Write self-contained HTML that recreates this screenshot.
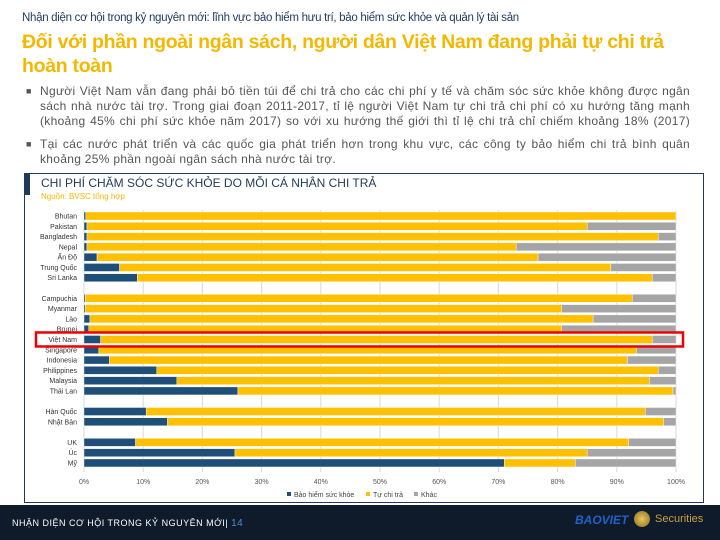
<!DOCTYPE html>
<html><head><meta charset="utf-8">
<style>
body{margin:0;width:720px;height:540px;overflow:hidden;background:#fff;font-family:"Liberation Sans","Noto Sans CJK SC",sans-serif;position:relative}
.abs{position:absolute}
#hdr{left:22px;top:12px;font-size:11.5px;color:#1f3a5a;letter-spacing:-0.3px;white-space:nowrap}
#ttl{left:22px;top:30px;font-size:19.5px;font-weight:bold;color:#f5b800;line-height:24px;width:690px;letter-spacing:-0.3px}
.bul{left:26px;font-size:12px;color:#555;line-height:15px;width:664px;letter-spacing:0.3px;white-space:nowrap}
.bul span.m{position:absolute;left:0;top:0;font-size:9px}
.bul div{margin-left:14px;width:650px}
.bul .j{display:block;text-align:justify;text-align-last:justify}
.bul .l{display:block}
#box{left:24px;top:173px;width:680px;height:330px;border:1px solid #1f3a5a;box-sizing:border-box}
#footer{left:0;top:505px;width:720px;height:35px;background:#0f1a2a}
</style></head><body>
<div id="hdr" class="abs">Nhận diện cơ hội trong kỷ nguyên mới: lĩnh vực bảo hiểm hưu trí, bảo hiểm sức khỏe và quản lý tài sản</div>
<div id="ttl" class="abs">Đối với phần ngoài ngân sách, người dân Việt Nam đang phải tự chi trả hoàn toàn</div>
<div class="abs bul" style="top:84px"><span class="m">■</span><div><span class="j">Người Việt Nam vẫn đang phải bỏ tiền túi để chi trả cho các chi phí y tế và chăm sóc sức khỏe không được ngân</span><span class="j">sách nhà nước tài trợ. Trong giai đoạn 2011-2017, tỉ lệ người Việt Nam tự chi trả chi phí có xu hướng tăng mạnh</span><span class="j">(khoảng 45% chi phí sức khỏe năm 2017) so với xu hướng thế giới thì tỉ lệ chi trả chỉ chiếm khoảng 18% (2017)</span></div></div>
<div class="abs bul" style="top:137px"><span class="m">■</span><div><span class="j">Tại các nước phát triển và các quốc gia phát triển hơn trong khu vực, các công ty bảo hiểm chi trả bình quân</span><span class="l">khoảng 25% phần ngoài ngân sách nhà nước tài trợ.</span></div></div>
<div id="box" class="abs"></div>
<div class="abs" style="left:24px;top:173px;width:6px;height:22px;background:#1f3a5a"></div>
<div class="abs" style="left:41px;top:176px;font-size:12px;color:#1f3a5a;white-space:nowrap">CHI PHÍ CHĂM SÓC SỨC KHỎE DO MỖI CÁ NHÂN CHI TRẢ</div>
<div class="abs" style="left:41px;top:192px;font-size:8px;color:#f5b800">Nguồn: BVSC tổng hợp</div>
<svg class="abs" style="left:0;top:0" width="720" height="540" id="chart"></svg>
<div id="footer" class="abs"></div>
<div class="abs" style="left:12px;top:518px;font-size:9px;color:#fff;letter-spacing:0.5px;white-space:nowrap">NHẬN DIỆN CƠ HỘI TRONG KỶ NGUYÊN MỚI| <span style="color:#4a90d9;font-size:10px">14</span></div>
<div class="abs" style="left:575px;top:513px;font-size:12px;font-weight:bold;color:#1e64c8;font-style:italic">BAOVIET</div>
<div class="abs" style="left:634px;top:511px;width:16px;height:16px;border-radius:50%;background:radial-gradient(#e8c860,#8a6a20)"></div>
<div class="abs" style="left:655px;top:513px;font-size:11px;color:#c8a040">Securities</div>
<script>
const categories=["Bhutan","Pakistan","Bangladesh","Nepal","Ấn Độ","Trung Quốc","Sri Lanka","","Campuchia","Myanmar","Lào","Brunei","Việt Nam","Singapore","Indonesia","Philippines","Malaysia","Thái Lan","","Hàn Quốc","Nhật Bản","","UK","Úc","Mỹ"];
const insurance=[0.3,0.5,0.5,0.5,2.2,6,9,null,0.2,0.2,1,0.8,2.8,2.5,4.3,12.3,15.7,26,null,10.5,14.1,null,8.7,25.5,71];
const outOfPocket=[99.7,84.5,96.5,72.5,74.5,83,87,null,92.4,80.5,85,79.9,93.2,90.8,87.5,84.7,79.8,73.5,null,84.3,83.8,null,83.3,59.5,12];
const other=[0,15,3,27,23.3,11,4,null,7.4,19.3,14,19.3,4,6.7,8.2,3,4.5,0.5,null,5.2,2.1,null,8,15,17];
const ticks=[0,10,20,30,40,50,60,70,80,90,100];
const legendLabels=["Bảo hiểm sức khỏe","Tự chi trả","Khác"];
const colors=["#1f4e79","#ffc000","#a5a5a5"];
const svg=document.getElementById('chart');const NS="http://www.w3.org/2000/svg";
const x0=84,x1=676,yTop=212,step=10.29,bh=8;
const X=v=>x0+(x1-x0)*v/100;
const Y=i=>yTop+i*step;
function mk(t,a){const e=document.createElementNS(NS,t);for(const k in a)e.setAttribute(k,a[k]);svg.appendChild(e);return e;}
ticks.forEach((t,i)=>{
 const g=mk('line',{x1:X(t),x2:X(t),y1:210,y2:472,stroke:'#d9d9d9','stroke-width':1});
 
 
 const l=mk('text',{x:X(t),y:484,'font-size':7,fill:'#555','text-anchor':'middle'});l.textContent=t+'%';
 
 
});
const series=[insurance,outOfPocket,other];
categories.forEach((c,i)=>{
 if(!c)return;
 const lb=mk('text',{x:77,y:Y(i)+bh/2+2.5,'font-size':7,fill:'#333','text-anchor':'end'});lb.textContent=c;
 
 
 let acc=0;
 series.forEach((s,k)=>{
  const v=s[i];const r=mk('rect',{x:X(acc),y:Y(i),width:Math.max(0,X(acc+v)-X(acc)),height:bh,fill:colors[k],stroke:'#fff','stroke-width':0.4});
  
  
  acc+=v;
 });
});
const vi=categories.indexOf("Việt Nam");
const hl=mk('rect',{x:36,y:Y(vi)-3,width:647,height:bh+6,fill:'none',stroke:'#e00','stroke-width':2.5});


const lx=[287,366,414];
legendLabels.forEach((t,k)=>{
 const s=mk('rect',{x:lx[k],y:492,width:4,height:4,fill:colors[k]});
 
 
 const tx=mk('text',{x:lx[k]+7,y:497,'font-size':7,fill:'#444'});tx.textContent=t;
 
 
});
</script>
</body></html>
